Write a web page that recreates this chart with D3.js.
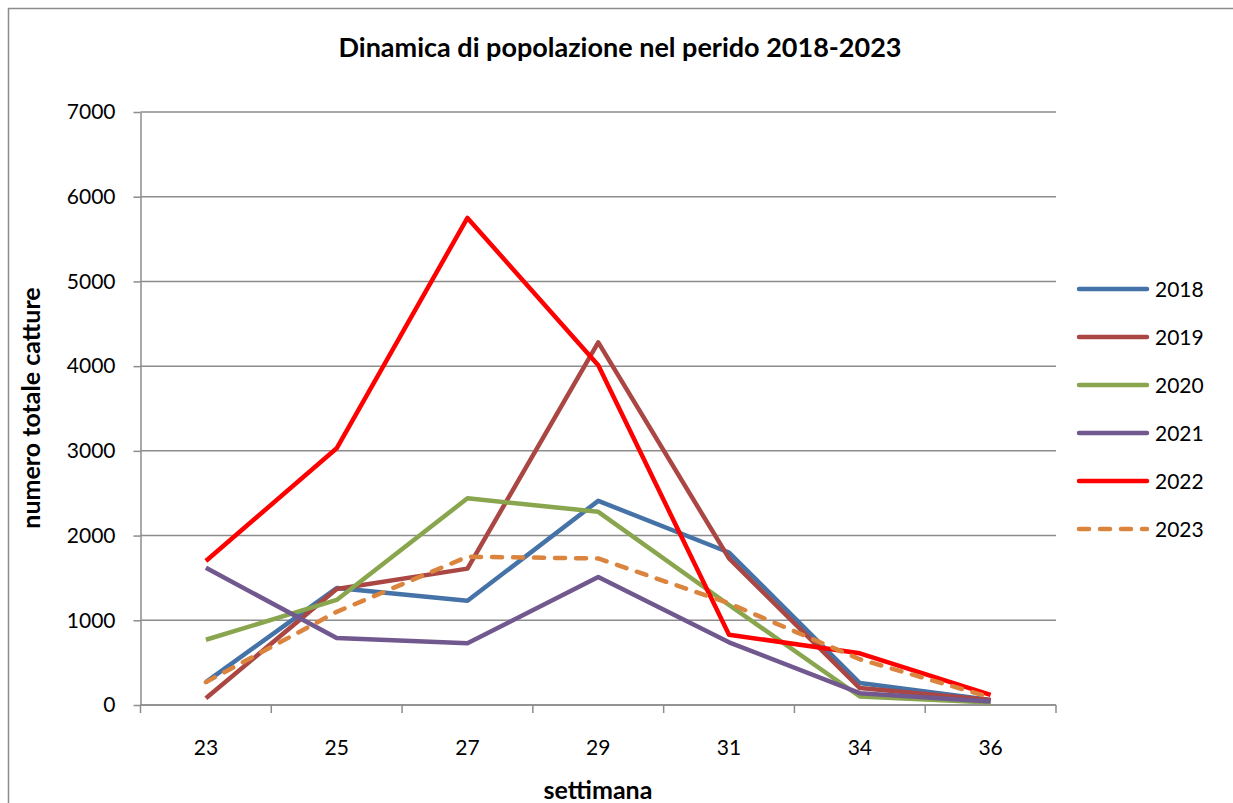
<!DOCTYPE html>
<html>
<head>
<meta charset="utf-8">
<script src="https://cdn.jsdelivr.net/npm/d3@7"></script>
<style>
  body { margin: 0; background: #fff; }
  text { font-family: Lato, "Open Sans", sans-serif; fill: #000; }
</style>
</head>
<body>
<svg id="chart" width="1233" height="803"></svg>
<script>
// weeks on the x axis
const weeks = ["23", "25", "27", "29", "31", "34", "36"];
const years = ["2018", "2019", "2020", "2021", "2022", "2023"];

// values
const v2018 = [270, 1380, 1230, 2410, 1800, 260, 60];
const v2019 = [80, 1370, 1610, 4280, 1730, 200, 60];
const v2020 = [770, 1240, 2440, 2280, 1180, 100, 30];
const v2021 = [1620, 790, 730, 1510, 740, 140, 40];
const v2022 = [1700, 3030, 5750, 4010, 830, 610, 120];
const v2023 = [270, 1100, 1750, 1730, 1200, 540, 90];

const yTicks = [0, 1000, 2000, 3000, 4000, 5000, 6000, 7000];
const colors = ["#4572A7", "#AA4643", "#89A54E", "#71588F", "#FF0000", "#DB843D"];

const seriesValues = [v2018, v2019, v2020, v2021, v2022, v2023];
const series = years.map((y, i) => ({ name: y, values: seriesValues[i], color: colors[i], dashed: y === "2023" }));

const svg = d3.select("#chart");

// outer chart border
svg.append("rect")
  .attr("x", 8.5).attr("y", 8.5)
  .attr("width", 1240).attr("height", 820)
  .attr("fill", "none").attr("stroke", "#8c8c8c").attr("stroke-width", 1.5);

const plotLeft = 140.5, plotRight = 1056, plotTop = 112, plotBottom = 705;

const x = d3.scaleBand().domain(weeks).range([plotLeft, plotRight]);
const y = d3.scaleLinear().domain([0, 7000]).range([plotBottom, plotTop]);

// horizontal gridlines
svg.append("g")
  .selectAll("line")
  .data(yTicks)
  .join("line")
  .attr("x1", plotLeft).attr("x2", plotRight)
  .attr("y1", d => y(d)).attr("y2", d => y(d))
  .attr("stroke", "#8c8c8c").attr("stroke-width", 1.5);

// y axis
const yAxis = svg.append("g")
  .attr("transform", `translate(${plotLeft},0)`)
  .call(d3.axisLeft(y).tickValues(yTicks).tickFormat(d3.format("d"))
    .tickSize(7).tickPadding(18).tickSizeOuter(0));
yAxis.select(".domain").attr("stroke", "#8c8c8c").attr("stroke-width", 1.5);
yAxis.selectAll(".tick line").attr("stroke", "#8c8c8c").attr("stroke-width", 1.5);
yAxis.selectAll(".tick text").style("font-size", "21px").attr("font-family", "Lato, sans-serif");

// x axis: ticks sit between categories
const xAxis = svg.append("g").attr("transform", `translate(0,${plotBottom})`);
xAxis.append("line")
  .attr("x1", plotLeft).attr("x2", plotRight)
  .attr("stroke", "#8c8c8c").attr("stroke-width", 1.5);
const bounds = weeks.map(w => x(w)).concat([plotRight]);
xAxis.selectAll("line.tk")
  .data(bounds)
  .join("line")
  .attr("class", "tk")
  .attr("x1", d => d).attr("x2", d => d)
  .attr("y1", 0).attr("y2", 8)
  .attr("stroke", "#8c8c8c").attr("stroke-width", 1.5);
xAxis.selectAll("text")
  .data(weeks)
  .join("text")
  .attr("x", d => x(d) + x.bandwidth() / 2)
  .attr("y", 50)
  .attr("text-anchor", "middle")
  .style("font-size", "21px")
  .text(d => d);

// lines
const line = d3.line()
  .x((d, i) => x(weeks[i]) + x.bandwidth() / 2)
  .y(d => y(d));

svg.append("g")
  .selectAll("path")
  .data(series)
  .join("path")
  .attr("d", d => line(d.values))
  .attr("fill", "none")
  .attr("stroke", d => d.color)
  .attr("stroke-width", 4.5)
  .attr("stroke-linejoin", "round")
  .attr("stroke-linecap", d => d.dashed ? "round" : "butt")
  .attr("stroke-dasharray", d => d.dashed ? "10 11" : null);

// legend
const legend = svg.append("g")
  .selectAll("g")
  .data(series)
  .join("g")
  .attr("transform", (d, i) => `translate(1077,${289 + i * 48})`);
legend.append("line")
  .attr("x1", 2).attr("x2", 70)
  .attr("stroke", d => d.color)
  .attr("stroke-width", 4.5)
  .attr("stroke-linecap", "round")
  .attr("stroke-dasharray", d => d.dashed ? "10 11" : null);
legend.append("text")
  .attr("x", 78).attr("y", 8)
  .style("font-size", "21px")
  .text(d => d.name);

// title and axis titles
svg.append("text")
  .attr("x", 620).attr("y", 57)
  .attr("text-anchor", "middle")
  .style("font-size", "27px").style("font-weight", "bold")
  .text("Dinamica di popolazione nel perido 2018-2023");

svg.append("text")
  .attr("x", 598).attr("y", 799)
  .attr("text-anchor", "middle")
  .style("font-size", "25px").style("font-weight", "bold")
  .text("settimana");

svg.append("text")
  .attr("transform", "translate(40,408) rotate(-90)")
  .attr("text-anchor", "middle")
  .style("font-size", "25px").style("font-weight", "bold")
  .text("numero totale catture");
</script>
</body>
</html>
